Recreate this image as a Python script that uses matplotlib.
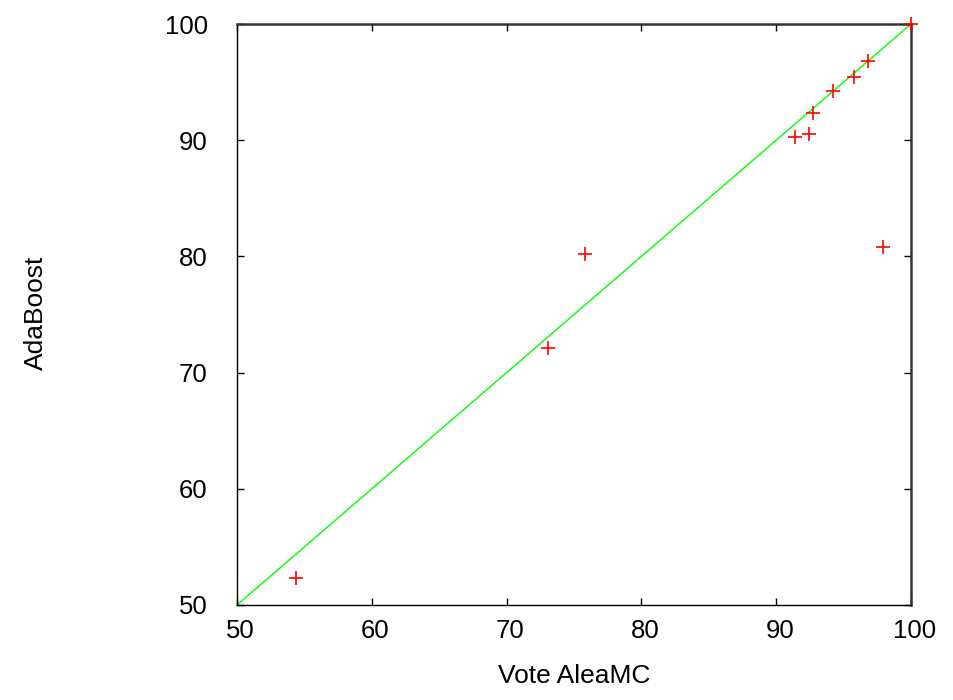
import matplotlib
matplotlib.use("Agg")
import matplotlib.pyplot as plt
import matplotlib.transforms as mtransforms

plt.rcParams['font.family'] = ['Liberation Sans', 'DejaVu Sans']

# Data
vote_aleamc = [54.4, 73.1, 75.8, 91.4, 92.4, 92.7, 94.2, 95.8, 96.8, 97.9, 100.0]
adaboost    = [52.3, 72.1, 80.2, 90.3, 90.5, 92.3, 94.2, 95.4, 96.8, 80.8, 100.0]
diag = [50, 100]
ticks = [50, 60, 70, 80, 90, 100]

fig = plt.figure(figsize=(9.54, 7.0), dpi=100)
ax = fig.add_axes([237/954, 1 - 605/700, (911 - 237)/954, (605 - 24)/700])

ax.plot(diag, diag, color='#00ff00', linewidth=1.0, zorder=2)
ax.plot(vote_aleamc, adaboost, linestyle='none', marker='+', color='red',
        markersize=10, markeredgewidth=1.2, zorder=3, clip_on=False)

ax.set_xlim(50, 100)
ax.set_ylim(50, 100)
ax.set_xticks(ticks)
ax.set_yticks(ticks)
ax.tick_params(direction='in', length=5, width=1, top=True, right=True,
               labelsize=18.5, colors='black')
ax.tick_params(axis='y', pad=21)
ax.tick_params(axis='x', pad=10)

# small horizontal shift of the x tick labels, as in the reference
offset = mtransforms.ScaledTranslation(3.5 / 100, 0, fig.dpi_scale_trans)
for lbl in ax.get_xticklabels():
    lbl.set_transform(lbl.get_transform() + offset)

for side in ['left', 'bottom']:
    ax.spines[side].set_linewidth(1.0)
    ax.spines[side].set_color('black')
for side in ['top', 'right']:
    ax.spines[side].set_linewidth(1.8)
    ax.spines[side].set_color('#333333')

ax.set_xlabel('Vote AleaMC', fontsize=19)
ax.set_ylabel('AdaBoost', fontsize=19)
ax.xaxis.set_label_coords((574 - 237) / 674, -(664 - 605) / 581)
ax.yaxis.set_label_coords(-(237 - 48) / 674, (605 - 313) / 581)

fig.savefig('out.png', dpi=100)
